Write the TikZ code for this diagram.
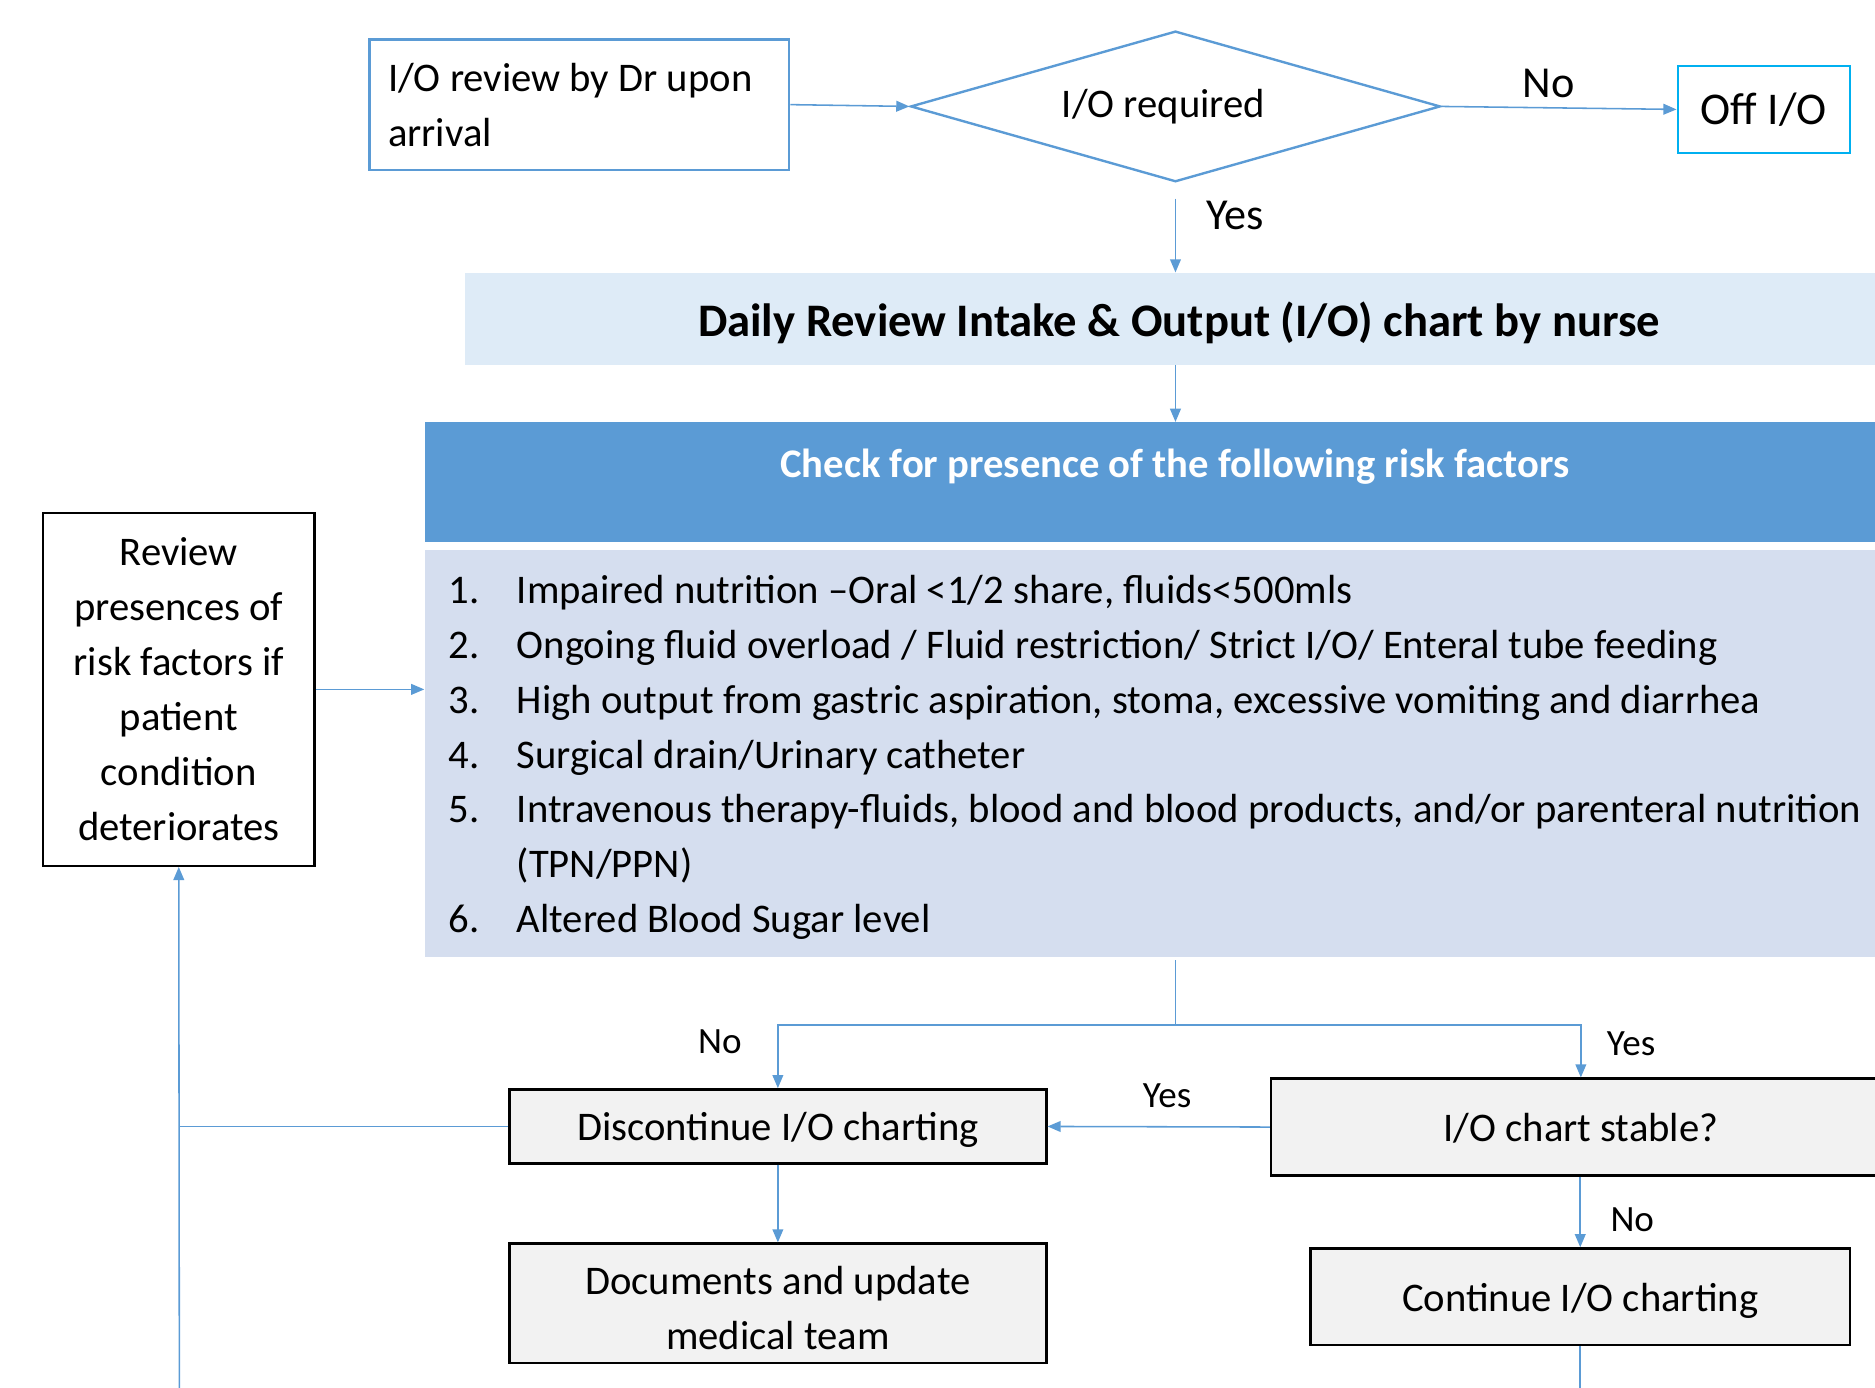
\documentclass[tikz,border=0pt]{standalone}
\usepackage{fontspec}
\setmainfont{Carlito}
\usetikzlibrary{shapes.geometric,arrows.meta}
\definecolor{cblue}{HTML}{5B9BD5}
\definecolor{ccyan}{HTML}{00B0F0}
\definecolor{bandA}{HTML}{DEEBF7}
\definecolor{bandB}{HTML}{D5DEEF}
\definecolor{boxgray}{HTML}{F2F2F2}
\begin{document}
\begin{tikzpicture}[x=1pt,y=-1pt,
  conn/.style={cblue, line width=1.3pt},
  arr/.style={conn, -{Triangle[length=11pt,width=9pt]}},
  fs/.style={font=\fontsize{34}{46}\selectfont},
  itemtxt/.style={fs, inner sep=0pt, anchor=base west},
  graybox/.style={draw=black, line width=2pt, fill=boxgray, fs, align=center, inner sep=0pt},
  oneline/.style={text height=30pt, text depth=6pt},
  bigl/.style={font=\fontsize{37}{44}\selectfont, inner sep=0pt},
  smalll/.style={font=\fontsize{31}{38}\selectfont, inner sep=0pt}
]
\clip (0,0) rectangle (1568,1160);
\useasboundingbox (0,0) rectangle (1568,1160);

% top row
\node[draw=cblue, line width=2pt, fs, text width=330pt, align=flush left, inner xsep=0pt, inner ysep=0pt,
      minimum width=351pt, minimum height=109pt] (drrev) at (484.5,87.5)
  {\hspace*{5pt}I/O review by Dr upon\\\hspace*{5pt}arrival};
\node[diamond, draw=cblue, line width=2pt, aspect=3.5, minimum width=443pt, minimum height=126pt,
      inner sep=1pt, fs] (dia) at (983,89) {I/O required\hspace*{20pt}};
\node[draw=ccyan, line width=2pt, minimum width=144pt, minimum height=73pt, inner sep=0pt,
      font=\fontsize{38}{44}\selectfont] (off) at (1475,91.5) {Off I/O};

\draw[arr] (drrev.east) -- (dia.west);
\draw[arr] (dia.east) -- (off.west);
\node[bigl] (lno1) at (1295,70) {No};

% daily band
\node[fill=bandA, minimum width=1194pt, minimum height=77pt, inner sep=0pt] (daily) at (986,266.5) {};
\node[font=\fontsize{39}{46}\selectfont\bfseries, inner sep=0pt, anchor=base] (dailyt) at (986,281)
  {Daily Review Intake \& Output (I/O) chart by nurse};
\draw[arr, shorten <=13pt] (dia.south) -- (daily.north -| dia.south);
\node[bigl] (lyes1) at (1033,180) {Yes};

% header band
\node[fill=cblue, minimum width=1255pt, minimum height=100pt, inner sep=0pt] (hdr) at (982.5,403) {};
\node[font=\fontsize{34}{40}\selectfont\bfseries, text=white, inner sep=0pt, anchor=base] (hdrt) at (982.5,399)
  {Check for presence of the following risk factors};
\draw[arr] (daily.south -| dia.south) -- (hdr.north -| dia.south);

% list band
\node[fill=bandB, minimum width=1255pt, minimum height=340pt, inner sep=0pt] (list) at (982.5,630) {};
\node[itemtxt] (i1) at (375,505) {\makebox[57pt][l]{1.}Impaired nutrition –Oral <1/2 share, fluids<500mls};
\node[itemtxt] (i2) at (375,551) {\makebox[57pt][l]{2.}Ongoing fluid overload / Fluid restriction/ Strict I/O/ Enteral tube feeding};
\node[itemtxt] (i3) at (375,597) {\makebox[57pt][l]{3.}High output from gastric aspiration, stoma, excessive vomiting and diarrhea};
\node[itemtxt] (i4) at (375,643) {\makebox[57pt][l]{4.}Surgical drain/Urinary catheter};
\node[itemtxt] (i5) at (375,688) {\makebox[57pt][l]{5.}Intravenous therapy-fluids, blood and blood products, and/or parenteral nutrition};
\node[itemtxt] (i5b) at (432,734) {(TPN/PPN)};
\node[itemtxt] (i6) at (375,780) {\makebox[57pt][l]{6.}Altered Blood Sugar level};

% review box
\node[draw=black, line width=2pt, fill=white, fs, align=center, minimum width=227pt, minimum height=295pt,
      inner sep=0pt] (rev) at (149.5,576.5)
  {Review\\presences of\\risk factors if\\patient\\condition\\deteriorates};
\draw[arr] (rev.east) -- (rev.east -| list.west);

% lower part
\node[graybox, oneline, minimum width=449pt, minimum height=62pt] (disc) at (650.5,942) {Discontinue I/O charting};
\node[graybox, minimum width=449pt, minimum height=100pt] (docs) at (650.5,1090)
  {\rule{0pt}{32pt}Documents and update\\medical team};
\node[graybox, oneline, minimum width=518pt, minimum height=81pt] (stable) at (1322,942.5) {I/O chart stable?};
\node[graybox, oneline, minimum width=451pt, minimum height=81pt] (cont) at (1321.5,1084.5) {Continue I/O charting};

\coordinate (split) at (983,857);
\coordinate (botL) at (150,1170);
\coordinate (botR) at (1321.5,1170);
\draw[conn, shorten <=3pt] (list.south -| split) -- (split);
\draw[arr] (split) -| (disc.north);
\draw[arr] (split) -| (stable.north);
\node[smalll] (lno2) at (602,871) {No};
\node[smalll] (lyes2) at (1364,873) {Yes};

\draw[arr] (stable.west) -- (disc.east);
\node[smalll] (lyes3) at (976,916) {Yes};
\draw[arr] (disc.south) -- (docs.north);
\draw[arr] (stable.south -| cont.north) -- (cont.north);
\node[smalll] (lno3) at (1365,1020) {No};
\draw[conn] (cont.south) -- (botR);

\draw[conn] (disc.west) -- (disc.west -| rev.south);
\draw[arr] (botL) -- (rev.south);
\end{tikzpicture}
\end{document}
